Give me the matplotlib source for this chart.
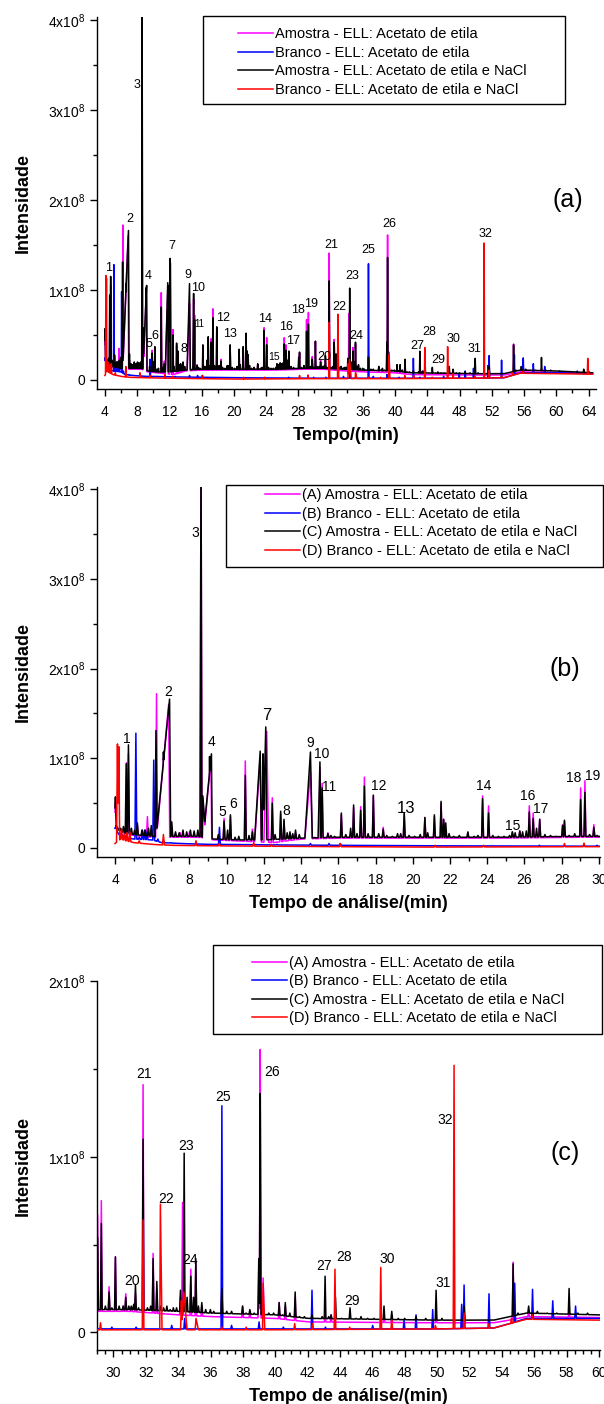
import numpy as np
import matplotlib
matplotlib.use('Agg')
import matplotlib.pyplot as plt
from matplotlib.ticker import MultipleLocator, FuncFormatter
from matplotlib.patches import Rectangle
from matplotlib.lines import Line2D

plt.rcParams['font.family'] = ['Liberation Sans', 'DejaVu Sans']
plt.rcParams['mathtext.fontset'] = 'custom'
plt.rcParams['mathtext.rm'] = 'Liberation Sans'
plt.rcParams['mathtext.it'] = 'Liberation Sans:italic'
plt.rcParams['mathtext.bf'] = 'Liberation Sans:bold'

SCALE = 1e8  # intensities below are in units of 1x10^8

# ---------------- data (time in min, intensity x1e8) ----------------
# (C) Amostra - ELL: Acetato de etila e NaCl  (black)
black_base_t = [4.0, 4.2, 4.5, 5.0, 6.0, 7.2, 8.5, 9.3, 10.5, 12.0, 14.0, 16.0, 20.0, 25.0, 29.0, 31.0, 34.0, 36.0, 40.0, 42.0, 46.0, 50.0, 53.5, 54.5, 55.5, 60.0, 64.5]
black_base_v = [0.27, 0.20, 0.17, 0.15, 0.13, 0.13, 0.13, 0.10, 0.09, 0.09, 0.11, 0.12, 0.12, 0.12, 0.13, 0.13, 0.12, 0.11, 0.10, 0.08, 0.075, 0.07, 0.07, 0.09, 0.11, 0.10, 0.08]
black_peaks = [(4.02, 0.57), (4.30, 0.22), (4.45, 0.24), (4.60, 0.94), (4.72, 1.15), (4.88, 0.22), (5.05, 0.20), (5.20, 0.28),
               (5.45, 0.20), (5.62, 0.20), (5.80, 0.22), (5.95, 0.25), (6.20, 1.31), (6.60, 1.07), (7.05, 0.29), (7.25, 0.18),
               (7.45, 0.17), (7.65, 0.20), (7.85, 0.18), (8.05, 0.20), (8.25, 0.19), (8.45, 0.20), (8.62, 4.50), (9.08, 1.02),
               (9.55, 0.15), (9.86, 0.30), (10.05, 0.20), (10.20, 0.37), (10.45, 0.12), (10.65, 0.13), (11.00, 0.81), (11.20, 0.14),
               (11.38, 0.18), (11.55, 0.20), (11.95, 1.05), (12.45, 0.50), (12.60, 0.15), (12.90, 0.41), (13.08, 0.32), (13.25, 0.17),
               (13.40, 0.18), (13.55, 0.16), (13.70, 0.20), (13.90, 0.15), (15.13, 0.67), (15.44, 0.16), (15.60, 0.14), (15.80, 0.13),
               (16.16, 0.39), (16.40, 0.15), (16.66, 0.22), (16.82, 0.48), (17.00, 0.16), (17.20, 0.42), (17.40, 0.69), (17.60, 0.16),
               (17.88, 0.59), (18.17, 0.16), (18.41, 0.21), (18.60, 0.14), (18.90, 0.13), (19.18, 0.16), (19.35, 0.16), (19.54, 0.39),
               (19.80, 0.14), (20.10, 0.13), (20.40, 0.15), (20.65, 0.34), (20.80, 0.17), (21.16, 0.37), (21.52, 0.52), (21.66, 0.32),
               (21.77, 0.28), (21.95, 0.16), (22.20, 0.13), (22.50, 0.14), (22.96, 0.18), (23.30, 0.13), (23.50, 0.14), (23.75, 0.55),
               (24.07, 0.39), (24.30, 0.14), (24.60, 0.13), (24.90, 0.13), (25.20, 0.14), (25.35, 0.18), (25.50, 0.17), (25.75, 0.19),
               (25.90, 0.18), (26.10, 0.19), (26.26, 0.40), (26.47, 0.33), (26.65, 0.22), (26.82, 0.32), (27.10, 0.15), (27.40, 0.14),
               (27.70, 0.13), (28.05, 0.25), (28.15, 0.31), (28.40, 0.14), (28.70, 0.16), (29.02, 0.54), (29.25, 0.62), (29.50, 0.15),
               (29.73, 0.23), (29.90, 0.14), (30.12, 0.43), (30.35, 0.15), (30.60, 0.15), (30.76, 0.20), (30.95, 0.15), (31.10, 0.15),
               (31.25, 0.16), (31.36, 0.27), (31.55, 0.14), (31.83, 1.10), (32.10, 0.14), (32.30, 0.15), (32.45, 0.42), (32.68, 0.29),
               (32.90, 0.15), (33.10, 0.14), (33.30, 0.15), (33.50, 0.13), (33.70, 0.14), (33.90, 0.14), (34.14, 0.24), (34.37, 1.02),
               (34.55, 0.20), (34.78, 0.32), (34.95, 0.20), (35.09, 0.42), (35.25, 0.15), (35.46, 0.17), (35.70, 0.13), (35.99, 0.13),
               (36.20, 0.12), (36.50, 0.11), (36.70, 0.25), (37.00, 0.12), (37.30, 0.12), (37.60, 0.10), (37.98, 0.15), (38.20, 0.11),
               (38.43, 0.13), (38.70, 0.11), (38.98, 0.42), (39.07, 1.36), (39.25, 0.16), (39.60, 0.11), (39.90, 0.11), (40.24, 0.17),
               (40.45, 0.10), (40.62, 0.17), (40.90, 0.11), (41.23, 0.23), (41.50, 0.09), (41.80, 0.09), (42.27, 0.10), (42.60, 0.08),
               (42.90, 0.09), (43.08, 0.32), (43.30, 0.09), (43.45, 0.10), (43.72, 0.20), (44.10, 0.08), (44.62, 0.14), (45.00, 0.08),
               (45.30, 0.09), (45.70, 0.08), (46.10, 0.08), (46.72, 0.15), (47.20, 0.12), (47.60, 0.08), (48.00, 0.08), (48.70, 0.09),
               (49.30, 0.08), (49.94, 0.24), (50.30, 0.08), (50.70, 0.07), (51.67, 0.15), (52.30, 0.07), (53.00, 0.07), (53.60, 0.07),
               (54.10, 0.08), (54.70, 0.39), (55.00, 0.11), (55.66, 0.15), (56.20, 0.12), (56.80, 0.11), (57.40, 0.11), (58.16, 0.25),
               (58.70, 0.11), (59.30, 0.11), (59.80, 0.10), (60.50, 0.09), (61.50, 0.09), (62.50, 0.09), (63.40, 0.12), (64.00, 0.10)]
# broad peaks: (time, apex, left width, right width)
black_broad = [(6.93, 1.66, 0.72, 0.06), (8.72, 0.58, 0.03, 0.15), (9.18, 1.05, 0.45, 0.04), (11.80, 1.08, 0.30, 0.06),
               (12.10, 1.35, 0.15, 0.06), (14.50, 1.07, 0.30, 0.10), (15.01, 0.96, 0.10, 0.06)]

# (A) Amostra - ELL: Acetato de etila  (magenta)
mag_base_t = [4.0, 4.5, 5.0, 6.0, 7.2, 8.5, 9.3, 10.5, 12.5, 14.0, 16.0, 20.0, 25.0, 29.0, 31.0, 34.0, 36.0, 40.0, 42.0, 46.0, 50.0, 53.5, 54.5, 55.5, 60.0, 64.5]
mag_base_v = [0.25, 0.16, 0.14, 0.12, 0.12, 0.12, 0.09, 0.08, 0.06, 0.10, 0.11, 0.11, 0.11, 0.12, 0.12, 0.10, 0.09, 0.08, 0.06, 0.057, 0.055, 0.055, 0.07, 0.09, 0.085, 0.07]
mag_peaks = [(4.02, 0.50), (4.30, 0.20), (4.62, 0.95), (4.72, 1.05), (5.20, 0.25), (5.50, 0.18), (5.74, 0.35), (5.95, 0.22),
             (6.23, 1.72), (6.60, 1.00), (7.05, 0.22), (7.50, 0.17), (8.00, 0.18), (8.62, 4.50), (9.86, 0.33), (10.20, 0.35),
             (11.00, 0.97), (11.38, 0.21), (12.45, 0.56), (12.90, 0.38), (13.08, 0.30), (13.40, 0.15), (13.70, 0.17), (14.70, 0.12),
             (15.01, 0.90), (15.13, 0.72), (15.44, 0.17), (16.16, 0.37), (16.82, 0.45), (17.20, 0.46), (17.40, 0.79), (17.88, 0.58),
             (18.41, 0.23), (19.54, 0.38), (20.65, 0.34), (21.16, 0.35), (21.52, 0.50), (21.66, 0.32), (22.96, 0.17), (23.75, 0.58),
             (24.07, 0.47), (25.35, 0.18), (25.75, 0.19), (26.26, 0.47), (26.47, 0.39), (26.82, 0.32), (28.05, 0.26), (28.15, 0.30),
             (29.02, 0.67), (29.25, 0.75), (29.73, 0.26), (30.12, 0.43), (30.60, 0.15), (30.76, 0.22), (31.10, 0.14), (31.36, 0.22),
             (31.83, 1.41), (32.45, 0.45), (32.68, 0.25), (34.14, 0.20), (34.27, 0.74), (34.78, 0.36), (35.09, 0.40), (35.46, 0.15),
             (36.70, 0.27), (37.98, 0.15), (38.43, 0.12), (38.98, 0.35), (39.07, 1.61), (39.25, 0.31), (40.24, 0.17), (40.62, 0.15),
             (41.23, 0.20), (43.08, 0.10), (43.45, 0.10), (46.72, 0.10), (47.20, 0.09), (49.94, 0.10), (51.67, 0.12), (54.70, 0.40),
             (55.66, 0.12), (58.16, 0.12)]
mag_broad = [(6.88, 1.60, 0.65, 0.06), (8.72, 0.55, 0.03, 0.15), (9.15, 0.98, 0.40, 0.05), (11.80, 1.00, 0.30, 0.06),
             (12.15, 1.30, 0.15, 0.10), (14.50, 0.85, 0.30, 0.10)]

# (B) Branco - ELL: Acetato de etila  (blue)
blue_base_t = [4.0, 4.3, 5.0, 6.0, 6.5, 7.5, 9.0, 10.0, 12.0, 20.0, 30.0, 40.0, 50.0, 53.5, 54.5, 55.5, 60.0, 64.5]
blue_base_v = [0.22, 0.12, 0.10, 0.09, 0.06, 0.05, 0.04, 0.04, 0.035, 0.025, 0.02, 0.02, 0.02, 0.025, 0.05, 0.08, 0.08, 0.07]
blue_peaks = [(4.05, 0.25), (4.20, 0.15), (4.40, 0.15), (4.60, 0.14), (5.12, 1.28), (5.30, 0.12), (5.47, 0.20), (5.60, 0.20),
              (5.72, 0.18), (6.08, 0.98), (6.30, 0.10), (6.60, 0.08), (7.00, 0.06), (9.61, 0.23), (12.70, 0.04), (14.50, 0.05),
              (15.50, 0.05), (16.10, 0.05), (26.80, 0.03), (29.90, 0.03), (31.40, 0.03), (33.60, 0.04), (34.40, 0.08), (36.70, 1.29),
              (37.30, 0.04), (39.00, 0.06), (40.50, 0.03), (42.27, 0.24), (43.10, 0.03), (46.02, 0.04), (47.96, 0.07), (48.70, 0.10),
              (49.73, 0.13), (51.52, 0.16), (51.67, 0.27), (53.21, 0.22), (54.80, 0.28), (55.90, 0.245), (57.15, 0.18), (58.56, 0.15),
              (60.40, 0.10), (62.60, 0.10)]
blue_broad = []

# (D) Branco - ELL: Acetato de etila e NaCl  (red)
red_base_t = [4.0, 4.3, 4.6, 5.0, 6.0, 7.0, 9.0, 12.0, 20.0, 30.0, 40.0, 50.0, 53.5, 54.5, 55.5, 60.0, 64.5]
red_base_v = [0.05, 0.10, 0.08, 0.06, 0.04, 0.03, 0.025, 0.02, 0.01, 0.015, 0.015, 0.02, 0.025, 0.05, 0.075, 0.07, 0.065]
red_peaks = [(4.13, 1.16), (4.20, 1.13), (4.35, 0.20), (4.50, 0.15), (4.65, 0.17), (4.80, 0.18), (5.30, 0.08), (6.60, 0.15),
             (8.35, 0.08), (9.60, 0.05), (11.45, 0.06), (12.40, 0.04), (16.10, 0.05), (21.20, 0.03), (23.80, 0.03), (28.15, 0.05),
             (29.20, 0.055), (31.83, 0.64), (34.20, 0.18), (36.70, 0.03), (38.20, 0.03), (41.20, 0.05), (42.30, 0.05), (43.69, 0.36),
             (44.60, 0.03), (46.52, 0.37), (47.20, 0.07), (49.90, 0.04), (51.05, 1.52), (51.67, 0.11), (53.20, 0.05), (54.60, 0.08),
             (55.90, 0.10), (63.90, 0.24)]
red_broad = [(32.90, 0.73, 0.04, 0.10), (34.35, 0.23, 0.15, 0.20), (35.10, 0.08, 0.05, 0.15), (39.25, 0.28, 0.04, 0.10)]

series_names_a = ['Amostra - ELL: Acetato de etila', 'Branco - ELL: Acetato de etila',
                  'Amostra - ELL: Acetato de etila e NaCl', 'Branco - ELL: Acetato de etila e NaCl']
series_names_bc = ['(A) Amostra - ELL: Acetato de etila', '(B) Branco - ELL: Acetato de etila',
                   '(C) Amostra - ELL: Acetato de etila e NaCl', '(D) Branco - ELL: Acetato de etila e NaCl']
series_colors = ['#ff00ff', '#0000ff', '#000000', '#ff0000']

# peak number labels: (label, time, intensity x1e8)
labels_a = [('1', 4.48, 1.24), ('2', 7.12, 1.79), ('3', 7.94, 3.28), ('4', 9.42, 1.15), ('5', 9.52, 0.40), ('6', 10.24, 0.49),
            ('7', 12.31, 1.49), ('8', 13.80, 0.34), ('9', 14.32, 1.17), ('10', 15.62, 1.02), ('11', 15.76, 0.62), ('12', 18.69, 0.69),
            ('13', 19.55, 0.51), ('14', 23.92, 0.68), ('15', 25.03, 0.26), ('16', 26.42, 0.59), ('17', 27.33, 0.43), ('18', 28.00, 0.78),
            ('19', 29.59, 0.84), ('20', 31.27, 0.25), ('21', 32.13, 1.50), ('22', 33.05, 0.81), ('23', 34.63, 1.15), ('24', 35.20, 0.49),
            ('25', 36.69, 1.44), ('26', 39.29, 1.73), ('27', 42.79, 0.38), ('28', 44.23, 0.53), ('29', 45.38, 0.22), ('30', 47.25, 0.46),
            ('31', 49.90, 0.34), ('32', 51.19, 1.62)]
labels_b = [('1', 4.64, 1.22), ('2', 6.83, 1.74), ('3', 8.33, 3.51), ('4', 9.20, 1.18), ('5', 9.78, 0.40), ('6', 10.32, 0.49),
            ('7', 12.13, 1.48), ('8', 13.21, 0.41), ('9', 14.50, 1.17), ('10', 15.13, 1.05), ('11', 15.48, 0.68), ('12', 18.16, 0.69),
            ('13', 19.66, 0.44), ('14', 23.82, 0.69), ('15', 25.38, 0.25), ('16', 26.20, 0.58), ('17', 26.85, 0.44), ('18', 28.67, 0.78),
            ('19', 29.64, 0.80)]
labels_c = [('20', 31.12, 0.29), ('21', 31.89, 1.47), ('22', 33.28, 0.76), ('23', 34.47, 1.06), ('24', 34.71, 0.41),
            ('25', 36.75, 1.34), ('26', 39.81, 1.48), ('27', 42.99, 0.38), ('28', 44.23, 0.43), ('29', 44.76, 0.18),
            ('30', 46.91, 0.42), ('31', 50.38, 0.28), ('32', 50.50, 1.21)]


# ---------------- build traces ----------------
def build(peaks, broad, base_t, base_v, w=0.05):
    specs = [(t, h, w, w) for t, h in peaks] + list(broad)
    grid = np.union1d(np.arange(4.0, 64.5001, 0.01), [s[0] for s in specs])
    y = np.interp(grid, base_t, base_v)
    for t0, h, wl, wr in specs:
        b0 = np.interp(t0, base_t, base_v)
        d = grid - t0
        frac = np.where(d < 0, 1 + d / wl, 1 - d / wr)
        val = b0 + (h - b0) * frac
        mask = (d >= -wl) & (d <= wr)
        y = np.where(mask, np.maximum(y, val), y)
    return grid, y * SCALE


traces = [build(mag_peaks, mag_broad, mag_base_t, mag_base_v),
          build(blue_peaks, blue_broad, blue_base_t, blue_base_v),
          build(black_peaks, black_broad, black_base_t, black_base_v),
          build(red_peaks, red_broad, red_base_t, red_base_v)]

W, H = 604, 1404
fig = plt.figure(figsize=(W / 100, H / 100), dpi=100)


def fx(px):
    return px / W


def fy(py):
    return 1 - py / H


def yfmt(v, pos):
    n = int(round(v / SCALE))
    if n == 0:
        return '0'
    return r'$%d\mathrm{x}10^{8}$' % n


def make_panel(rect, xlim, ylim, xmaj, xmin, xlabel, labels, lbl_size, big_lbls, tag, tag_pos, legend_names,
               leg_anchor, box):
    x0, x1, ytop, ybot = rect
    ax = fig.add_axes([fx(x0), fy(ybot), fx(x1 - x0), (ybot - ytop) / H])
    for (t, y), c, z in zip(traces, series_colors, [2, 3, 4, 5]):
        ax.plot(t, y, color=c, lw=1.1, zorder=z)
    ax.set_xlim(*xlim)
    ax.set_ylim(ylim[0] * SCALE, ylim[1] * SCALE)
    ax.spines['top'].set_visible(False)
    ax.spines['right'].set_visible(False)
    for s in ['left', 'bottom']:
        ax.spines[s].set_linewidth(1.0)
    ax.xaxis.set_major_locator(MultipleLocator(xmaj))
    ax.xaxis.set_minor_locator(MultipleLocator(xmin))
    ax.yaxis.set_major_locator(MultipleLocator(1 * SCALE))
    ax.yaxis.set_minor_locator(MultipleLocator(0.5 * SCALE))
    ax.yaxis.set_major_formatter(FuncFormatter(yfmt))
    ax.tick_params(which='major', direction='out', length=5, width=1.0, labelsize=10)
    ax.tick_params(axis='x', which='major', pad=6.5)
    ax.tick_params(which='minor', direction='out', length=3, width=1.0)
    ax.set_xlabel(xlabel, fontsize=13, fontweight='bold', labelpad=6)
    ax.set_ylabel('Intensidade', fontsize=13, fontweight='bold')
    ax.yaxis.set_label_coords(-0.13, 0.5)
    for s, t, v in labels:
        fs = big_lbls.get(s, lbl_size)
        ax.text(t, v * SCALE, s, ha='center', va='center', fontsize=fs, zorder=6)
    ax.text(tag_pos[0], tag_pos[1] * SCALE, tag, ha='center', va='center', fontsize=18, zorder=6)
    handles = [Line2D([], [], color=c, lw=1.1) for c in series_colors]
    fig.legend(handles, legend_names, loc='upper left', bbox_to_anchor=(fx(leg_anchor[0]), fy(leg_anchor[1])),
               bbox_transform=fig.transFigure, frameon=False, borderpad=0, borderaxespad=0,
               handlelength=2.4, handletextpad=0.15, labelspacing=0.31, fontsize=10.5)
    bx0, by0, bx1, by1 = box
    fig.patches.append(Rectangle((fx(bx0), fy(by1)), fx(bx1 - bx0), (by1 - by0) / H, transform=fig.transFigure,
                                 fill=False, ec='black', lw=1.0, zorder=10))
    return ax


# panel (a)
make_panel((96.8, 596.2, 17, 389), (3.0, 64.95), (-0.1, 4.03), 4, 2, 'Tempo/(min)', labels_a, 9,
           {'11': 7, '15': 7.5}, '(a)', (61.4, 2.0), series_names_a, (238, 27.3), (203.3, 15.7, 564.5, 104))
# panel (b)
make_panel((96.8, 600.0, 486.7, 856.7), (3.02, 30.06), (-0.097, 4.028), 2, 1, 'Tempo de análise/(min)', labels_b, 10,
           {'7': 12, '13': 12}, '(b)', (28.19, 2.0), series_names_bc, (265, 488.1), (225.7, 485, 603, 567))
# panel (c)
make_panel((96.8, 600.0, 981, 1350), (28.97, 60.07), (-0.1, 2.0), 2, 0.5, 'Tempo de análise/(min)', labels_c, 10,
           {}, '(c)', (57.9, 1.02), series_names_bc, (251.6, 955.8), (213, 945, 601.7, 1034))

fig.savefig('out.png', dpi=100)
